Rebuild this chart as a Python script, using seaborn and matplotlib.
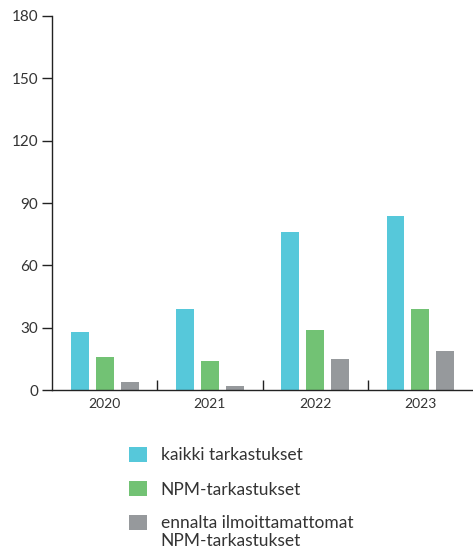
import pandas as pd
import numpy as np
import matplotlib
matplotlib.use("Agg")
import matplotlib.pyplot as plt
import seaborn as sns

sns.set_style("white")
plt.rcParams['font.family'] = ['Lato', 'DejaVu Sans']

# Data
years = ['2020', '2021', '2022', '2023']
series = ['kaikki tarkastukset', 'NPM-tarkastukset',
          'ennalta ilmoittamattomat\nNPM-tarkastukset']
kaikki = [28, 39, 76, 84]
npm = [16, 14, 29, 39]
ennalta = [4, 2, 15, 19]
colors = ['#56C8DA', '#72C274', '#96999C']

# Long format for seaborn
df = pd.DataFrame({
    'vuosi': years * 3,
    'sarja': [series[0]] * 4 + [series[1]] * 4 + [series[2]] * 4,
    'arvo': kaikki + npm + ennalta,
})

fig = plt.figure(figsize=(4.73, 5.51), dpi=100)
ax = fig.add_axes([0.11, 0.292, 0.89, 0.679])

sns.barplot(data=df, x='vuosi', y='arvo', hue='sarja', hue_order=series,
            palette=colors, width=0.71, gap=0.28, saturation=1,
            linewidth=0, ax=ax)

text_col = '#333333'
ax.set_xlim(-0.5, 3.5)
ax.set_ylim(0, 180)
ax.set_yticks(range(0, 181, 30))
ax.set_xlabel('')
ax.set_ylabel('')

for side in ['top', 'right']:
    ax.spines[side].set_visible(False)
for side in ['left', 'bottom']:
    ax.spines[side].set_color('#222222')
    ax.spines[side].set_linewidth(1.0)

ax.tick_params(axis='y', left=True, direction='out', length=7, width=1,
               color='#222222', labelsize=11, labelcolor=text_col, pad=3)
ax.tick_params(axis='x', which='major', length=0, labelsize=10,
               labelcolor=text_col, pad=6)
ax.set_xticks([0.5, 1.5, 2.5], minor=True)
ax.tick_params(axis='x', which='minor', bottom=True, direction='in',
               length=7, width=1, color='#222222')

# Legend below the chart
handles, labels = ax.get_legend_handles_labels()
ax.get_legend().remove()
leg = fig.legend(handles, labels, loc='upper left',
                 bbox_to_anchor=(0.255, 0.205), frameon=False,
                 fontsize=12.5, labelcolor=text_col,
                 handlelength=1.0, handleheight=1.0, handletextpad=0.8,
                 labelspacing=1.0, borderpad=0)
# put the last square next to the first line of its label
last = leg.legend_handles[2]
last.set_y(last.get_y() + 7.5)

fig.savefig('out.png', dpi=100)
